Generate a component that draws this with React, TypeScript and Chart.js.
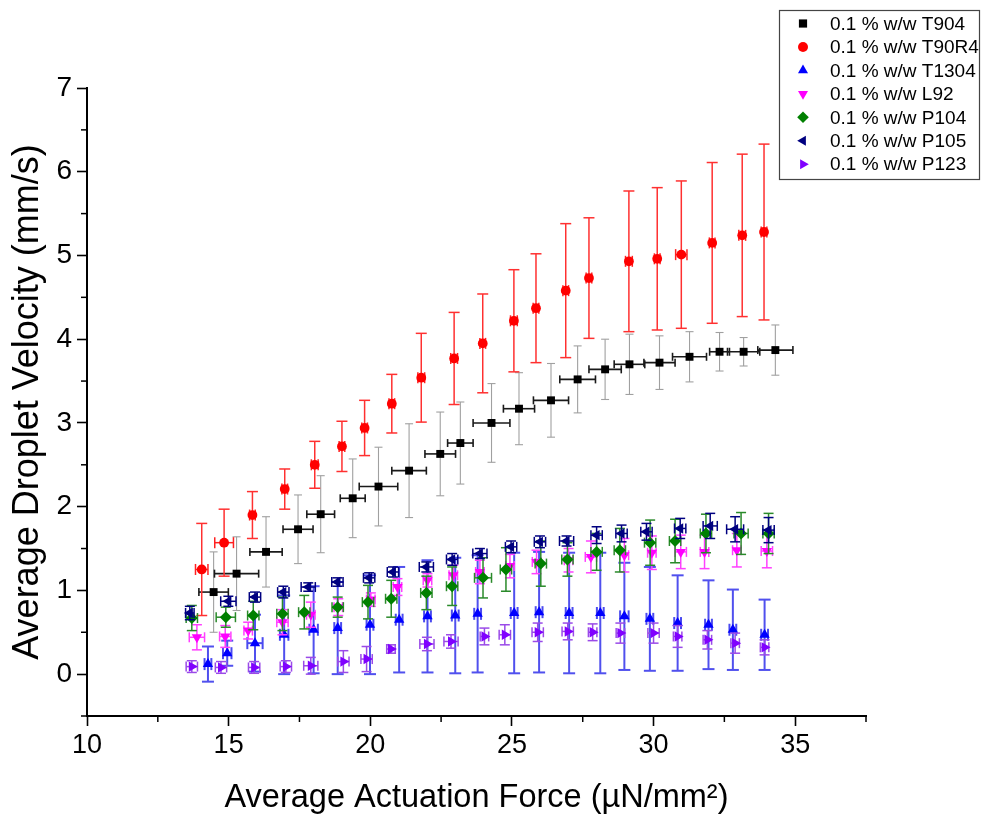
import React, { useEffect, useRef } from 'react';
import { Chart, registerables } from 'chart.js';
import { drawPoint } from 'chart.js/helpers';

Chart.register(...registerables);

// ---------- data ----------
const seriesLabels = [
  '0.1 % w/w T904',
  '0.1 % w/w T90R4',
  '0.1 % w/w T1304',
  '0.1 % w/w L92',
  '0.1 % w/w P104',
  '0.1 % w/w P105',
  '0.1 % w/w P123',
];

// T904
const t904X = [14.47, 15.28, 16.32, 17.45, 18.25, 19.38, 20.29, 21.37, 22.47, 23.18, 24.28, 25.25, 26.38, 27.32, 28.29, 29.15, 30.21, 31.27, 32.33, 33.18, 34.3];
const t904Y = [0.98, 1.2, 1.46, 1.73, 1.91, 2.1, 2.24, 2.43, 2.63, 2.76, 3.0, 3.17, 3.27, 3.52, 3.64, 3.7, 3.72, 3.79, 3.85, 3.85, 3.87];
const t904XErr = [0.52, 0.78, 0.57, 0.53, 0.49, 0.44, 0.68, 0.61, 0.54, 0.45, 0.65, 0.55, 0.62, 0.63, 0.57, 0.54, 0.55, 0.6, 0.35, 0.57, 0.62];
const t904YErr = [0.48, 0.44, 0.42, 0.41, 0.46, 0.47, 0.47, 0.56, 0.5, 0.49, 0.47, 0.43, 0.44, 0.4, 0.36, 0.36, 0.32, 0.3, 0.23, 0.17, 0.3];

// T90R4
const t90r4X = [14.05, 14.84, 15.84, 16.98, 18.04, 19.0, 19.8, 20.76, 21.8, 22.96, 23.97, 25.07, 25.85, 26.9, 27.72, 29.13, 30.13, 30.98, 32.07, 33.13, 33.9];
const t90r4Y = [1.25, 1.57, 1.9, 2.21, 2.5, 2.72, 2.94, 3.23, 3.54, 3.77, 3.95, 4.22, 4.37, 4.58, 4.73, 4.93, 4.96, 5.01, 5.15, 5.24, 5.28];
const t90r4XErr = [0.22, 0.33, 0.1, 0.1, 0.12, 0.1, 0.1, 0.1, 0.12, 0.12, 0.1, 0.12, 0.1, 0.1, 0.1, 0.12, 0.1, 0.2, 0.1, 0.12, 0.1];
const t90r4YErr = [0.55, 0.4, 0.28, 0.24, 0.28, 0.3, 0.33, 0.35, 0.53, 0.55, 0.59, 0.61, 0.65, 0.8, 0.72, 0.84, 0.85, 0.88, 0.96, 0.97, 1.05];

// T1304
const t1304X = [14.27, 14.95, 15.93, 16.96, 18.0, 18.85, 19.99, 21.02, 22.02, 23.0, 23.79, 25.08, 25.96, 27.02, 28.12, 28.97, 29.87, 30.85, 31.94, 32.8, 33.92];
const t1304Y = [0.12, 0.25, 0.37, 0.47, 0.53, 0.55, 0.59, 0.65, 0.69, 0.7, 0.72, 0.73, 0.74, 0.73, 0.73, 0.69, 0.66, 0.61, 0.59, 0.53, 0.47];
const t1304XErr = [0.12, 0.15, 0.27, 0.15, 0.15, 0.12, 0.12, 0.12, 0.12, 0.12, 0.12, 0.12, 0.12, 0.12, 0.12, 0.15, 0.12, 0.12, 0.12, 0.12, 0.12];
const t1304YErr = [0.21, 0.15, 0.34, 0.47, 0.52, 0.55, 0.59, 0.63, 0.67, 0.69, 0.7, 0.72, 0.72, 0.72, 0.72, 0.64, 0.62, 0.57, 0.53, 0.48, 0.42];

// L92
const l92X = [13.88, 14.88, 15.69, 16.9, 17.9, 18.87, 20.02, 20.96, 22.02, 22.93, 23.87, 24.93, 25.87, 27.0, 27.79, 28.97, 29.94, 30.96, 31.8, 32.94, 34.0];
const l92Y = [0.44, 0.45, 0.52, 0.62, 0.71, 0.8, 0.89, 1.04, 1.12, 1.18, 1.22, 1.29, 1.34, 1.36, 1.4, 1.42, 1.45, 1.46, 1.46, 1.48, 1.47];
const l92XErr = [0.27, 0.2, 0.15, 0.2, 0.15, 0.15, 0.15, 0.15, 0.15, 0.15, 0.15, 0.15, 0.15, 0.15, 0.2, 0.15, 0.15, 0.2, 0.15, 0.15, 0.2];
const l92YErr = [0.15, 0.13, 0.1, 0.15, 0.15, 0.1, 0.08, 0.1, 0.08, 0.12, 0.14, 0.14, 0.14, 0.14, 0.19, 0.2, 0.2, 0.2, 0.2, 0.2, 0.2];

// P104
const p104X = [13.7, 14.9, 15.87, 16.9, 17.67, 18.85, 19.92, 20.74, 21.98, 22.89, 23.98, 24.79, 26.02, 26.96, 27.99, 28.81, 29.88, 30.76, 31.85, 33.09, 34.06];
const p104Y = [0.67, 0.68, 0.7, 0.72, 0.74, 0.8, 0.86, 0.9, 0.97, 1.05, 1.15, 1.25, 1.32, 1.37, 1.46, 1.48, 1.57, 1.59, 1.68, 1.68, 1.68];
const p104XErr = [0.2, 0.34, 0.2, 0.2, 0.2, 0.2, 0.2, 0.2, 0.2, 0.2, 0.3, 0.2, 0.2, 0.2, 0.2, 0.2, 0.2, 0.2, 0.2, 0.25, 0.2];
const p104YErr = [0.15, 0.12, 0.17, 0.2, 0.2, 0.12, 0.2, 0.22, 0.2, 0.23, 0.24, 0.26, 0.27, 0.2, 0.22, 0.26, 0.27, 0.26, 0.23, 0.25, 0.24];

// P105
const p105X = [13.63, 14.99, 15.93, 16.93, 17.81, 18.84, 19.96, 20.8, 21.98, 22.89, 23.87, 24.97, 25.99, 26.93, 27.99, 28.87, 29.75, 30.94, 32.0, 32.88, 34.06];
const p105Y = [0.73, 0.87, 0.92, 0.98, 1.04, 1.1, 1.15, 1.22, 1.28, 1.37, 1.44, 1.52, 1.58, 1.59, 1.66, 1.68, 1.7, 1.74, 1.77, 1.73, 1.72];
const p105XErr = [0.15, 0.27, 0.2, 0.2, 0.25, 0.2, 0.2, 0.2, 0.25, 0.2, 0.25, 0.2, 0.2, 0.25, 0.2, 0.2, 0.2, 0.2, 0.25, 0.3, 0.2];
const p105YErr = [0.08, 0.06, 0.06, 0.07, 0.05, 0.05, 0.06, 0.06, 0.06, 0.07, 0.06, 0.07, 0.07, 0.06, 0.1, 0.1, 0.1, 0.12, 0.15, 0.15, 0.15];

// P123
const p123X = [13.7, 14.73, 15.9, 17.02, 17.9, 19.05, 19.87, 20.73, 22.0, 22.85, 24.03, 24.75, 25.91, 26.97, 27.85, 28.83, 30.0, 30.85, 31.9, 32.88, 33.92];
const p123Y = [0.09, 0.08, 0.08, 0.09, 0.1, 0.15, 0.18, 0.3, 0.36, 0.39, 0.45, 0.47, 0.5, 0.51, 0.5, 0.49, 0.49, 0.45, 0.41, 0.37, 0.32];
const p123XErr = [0.2, 0.2, 0.2, 0.2, 0.25, 0.2, 0.2, 0.15, 0.25, 0.25, 0.15, 0.2, 0.2, 0.2, 0.15, 0.15, 0.2, 0.15, 0.15, 0.15, 0.15];
const p123YErr = [0.07, 0.07, 0.07, 0.07, 0.1, 0.13, 0.15, 0.05, 0.08, 0.08, 0.1, 0.12, 0.11, 0.1, 0.1, 0.12, 0.12, 0.13, 0.11, 0.12, 0.09];

const xTickValues = [10, 15, 20, 25, 30, 35];
const yTickValues = [0, 1, 2, 3, 4, 5, 6, 7];
const xMinorTicks = [12.5, 17.5, 22.5, 27.5, 32.5, 37.5];
const yMinorTicks = [-0.5, 0.5, 1.5, 2.5, 3.5, 4.5, 5.5, 6.5];

const xTitle = 'Average Actuation Force (\u00B5N/mm\u00B2)';
const yTitle = 'Average Droplet Velocity (mm/s)';

const seriesData = [
  { x: t904X, y: t904Y, xe: t904XErr, ye: t904YErr },
  { x: t90r4X, y: t90r4Y, xe: t90r4XErr, ye: t90r4YErr },
  { x: t1304X, y: t1304Y, xe: t1304XErr, ye: t1304YErr },
  { x: l92X, y: l92Y, xe: l92XErr, ye: l92YErr },
  { x: p104X, y: p104Y, xe: p104XErr, ye: p104YErr },
  { x: p105X, y: p105Y, xe: p105XErr, ye: p105YErr },
  { x: p123X, y: p123Y, xe: p123XErr, ye: p123YErr },
];

// ---------- styles ----------
const styles = [
  { color: '#000000', style: 'rect', rotation: 0, radius: 5.6, xErr: '#1a1a1a', yErr: '#a0a0a0', xw: 1.6, yw: 1.1, cap: 4 },
  { color: '#ff0000', style: 'circle', rotation: 0, radius: 4.9, xErr: '#ff2020', yErr: '#ff3030', xw: 1.5, yw: 1.5, cap: 5.5 },
  { color: '#0000ff', style: 'triangle', rotation: 0, radius: 6, xErr: '#4a4af0', yErr: '#5050ee', xw: 2, yw: 2, cap: 6 },
  { color: '#ff00ff', style: 'triangle', rotation: 180, radius: 6, xErr: '#ff40ff', yErr: '#ff40ff', xw: 1.5, yw: 1.5, cap: 5 },
  { color: '#008000', style: 'rectRot', rotation: 0, radius: 6, xErr: '#2a8a2a', yErr: '#2a8a2a', xw: 1.5, yw: 1.5, cap: 5 },
  { color: '#000080', style: 'triangle', rotation: 270, radius: 6, xErr: '#000080', yErr: '#000080', xw: 1.5, yw: 1.5, cap: 5 },
  { color: '#8000ff', style: 'triangle', rotation: 90, radius: 6, xErr: '#9a4ae8', yErr: '#9a4ae8', xw: 1.5, yw: 1.5, cap: 5 },
];

const FONT = '"Liberation Sans", Arial, Helvetica, sans-serif';

const errorBarPlugin = {
  id: 'errorBars',
  beforeDatasetDraw(chart: any, args: any) {
    const i = args.index;
    const s = seriesData[i];
    const st = styles[i];
    const xs = chart.scales.x;
    const ys = chart.scales.y;
    const ctx = chart.ctx;
    ctx.save();
    ctx.lineCap = 'butt';
    const seg = (x1: number, y1: number, x2: number, y2: number) => {
      ctx.beginPath();
      ctx.moveTo(x1, y1);
      ctx.lineTo(x2, y2);
      ctx.stroke();
    };
    for (let k = 0; k < s.x.length; k++) {
      const px = xs.getPixelForValue(s.x[k]);
      const py = ys.getPixelForValue(s.y[k]);
      const yt = ys.getPixelForValue(s.y[k] + s.ye[k]);
      const yb = ys.getPixelForValue(s.y[k] - s.ye[k]);
      ctx.strokeStyle = st.yErr;
      ctx.lineWidth = st.yw;
      seg(px, yt, px, yb);
      seg(px - st.cap, yt, px + st.cap, yt);
      seg(px - st.cap, yb, px + st.cap, yb);
      const xl = xs.getPixelForValue(s.x[k] - s.xe[k]);
      const xr = xs.getPixelForValue(s.x[k] + s.xe[k]);
      ctx.strokeStyle = st.xErr;
      ctx.lineWidth = st.xw;
      seg(xl, py, xr, py);
      seg(xl, py - st.cap, xl, py + st.cap);
      seg(xr, py - st.cap, xr, py + st.cap);
    }
    ctx.restore();
  },
};

const minorTickPlugin = {
  id: 'minorTicks',
  afterDraw(chart: any) {
    const ctx = chart.ctx;
    const xs = chart.scales.x;
    const ys = chart.scales.y;
    const area = chart.chartArea;
    ctx.save();
    ctx.strokeStyle = '#000';
    ctx.lineWidth = 1.5;
    xMinorTicks.forEach((v) => {
      const px = xs.getPixelForValue(v);
      ctx.beginPath();
      ctx.moveTo(px, area.bottom);
      ctx.lineTo(px, area.bottom + 6);
      ctx.stroke();
    });
    yMinorTicks.forEach((v) => {
      const py = ys.getPixelForValue(v);
      ctx.beginPath();
      ctx.moveTo(area.left, py);
      ctx.lineTo(area.left - 6, py);
      ctx.stroke();
    });
    ctx.restore();
  },
};

const legendPlugin = {
  id: 'boxLegend',
  afterDraw(chart: any) {
    const ctx = chart.ctx;
    ctx.save();
    ctx.strokeStyle = '#444';
    ctx.lineWidth = 1.2;
    ctx.strokeRect(779.5, 10.5, 200, 169);
    ctx.font = `19px ${FONT}`;
    ctx.textBaseline = 'middle';
    ctx.textAlign = 'left';
    chart.data.datasets.forEach((ds: any, i: number) => {
      const y = 23.5 + i * 23.45;
      const st = styles[i];
      ctx.fillStyle = st.color;
      ctx.strokeStyle = st.color;
      drawPoint(ctx, { pointStyle: st.style, rotation: st.rotation, radius: st.style === 'circle' ? 5 : 5.8, borderWidth: 0 } as any, 803, y);
      ctx.fillStyle = '#000';
      ctx.fillText(ds.label, 830, y + 1);
    });
    ctx.restore();
  },
};

export default function App() {
  const ref = useRef<HTMLCanvasElement>(null);
  useEffect(() => {
    const datasets = seriesData.map((s, i) => ({
      label: seriesLabels[i],
      data: s.x.map((xv, k) => ({ x: xv, y: s.y[k] })),
      backgroundColor: styles[i].color,
      borderColor: styles[i].color,
      pointStyle: styles[i].style,
      rotation: styles[i].rotation,
      pointRadius: styles[i].radius,
      pointBorderWidth: 0,
      showLine: false,
      order: 10 - i,
    }));
    const chart = new Chart(ref.current as HTMLCanvasElement, {
      type: 'scatter',
      data: { datasets },
      options: {
        animation: false,
        responsive: false,
        devicePixelRatio: 1,
        layout: { padding: { top: 88, right: 116, left: 0, bottom: 0 } },
        plugins: { legend: { display: false }, tooltip: { enabled: false } },
        scales: {
          x: {
            type: 'linear',
            position: 'bottom',
            min: 10,
            max: 37.5,
            afterFit: (scale: any) => { scale.height = 102; },
            afterBuildTicks: (scale: any) => { scale.ticks = xTickValues.map((v) => ({ value: v })); },
            ticks: {
              color: '#000',
              font: { family: FONT, size: 27 },
              padding: 3,
              maxRotation: 0,
              autoSkip: false,
              callback: (v: any) => String(v),
            },
            grid: { drawOnChartArea: false, tickLength: 10, tickColor: '#000', tickWidth: 1.6 },
            border: { color: '#000', width: 2 },
            title: { display: true, text: xTitle, color: '#000', font: { family: FONT, size: 32.5 }, padding: { top: 0, bottom: 0 } },
          },
          y: {
            type: 'linear',
            position: 'left',
            min: -0.5,
            max: 7,
            afterFit: (scale: any) => { scale.width = 87; },
            afterBuildTicks: (scale: any) => { scale.ticks = yTickValues.map((v) => ({ value: v })); },
            ticks: {
              color: '#000',
              font: { family: FONT, size: 28 },
              padding: 5,
              autoSkip: false,
              callback: (v: any) => String(v),
            },
            grid: { drawOnChartArea: false, tickLength: 10, tickColor: '#000', tickWidth: 1.6 },
            border: { color: '#000', width: 2 },
            title: { display: true, text: yTitle, color: '#000', font: { family: FONT, size: 36 }, padding: { top: 6, bottom: 0 } },
          },
        },
      },
      plugins: [errorBarPlugin, minorTickPlugin, legendPlugin],
    } as any);
    return () => chart.destroy();
  }, []);
  return (
    <div style={{ position: 'absolute', left: 0, top: 0, width: 982, height: 818, background: '#fff' }}>
      <canvas ref={ref} width={982} height={818} style={{ display: 'block', width: 982, height: 818 }} />
    </div>
  );
}
